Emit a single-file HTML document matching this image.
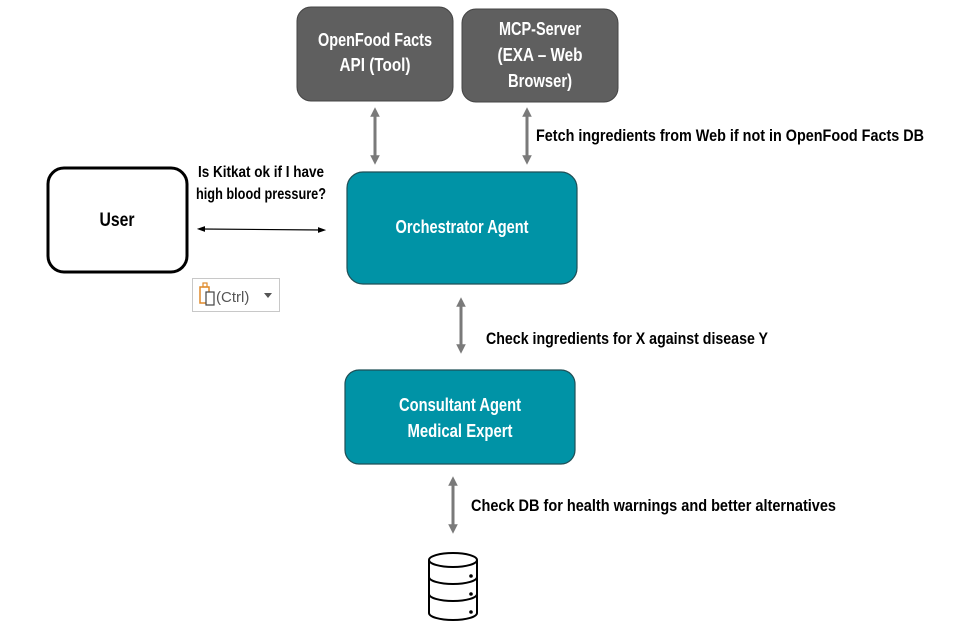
<!DOCTYPE html>
<html><head><meta charset="utf-8"><style>
html,body{margin:0;padding:0;background:#fff;}
svg{display:block;}
text{font-family:"Liberation Sans Narrow","Liberation Sans",sans-serif;font-weight:bold;}
</style></head><body>
<svg width="973" height="640" viewBox="0 0 973 640" xmlns="http://www.w3.org/2000/svg">
<defs>
<marker id="ag" viewBox="0 0 10 10" refX="5" refY="5" markerWidth="3.2" markerHeight="3.2" orient="auto-start-reverse"><path d="M0,0 L10,5 L0,10 z" fill="#7a7a7a"/></marker>
<marker id="ab" viewBox="0 0 10 10" refX="5" refY="5" markerWidth="7" markerHeight="7" orient="auto-start-reverse"><path d="M0,1.5 L10,5 L0,8.5 z" fill="#000"/></marker>
</defs>
<!-- top boxes -->
<rect x="297" y="7" width="156" height="94" rx="14" fill="#5f5f5f" stroke="#444" stroke-width="1"/>
<text x="375" y="46" text-anchor="middle" fill="#fff" font-size="18" textLength="114" lengthAdjust="spacingAndGlyphs">OpenFood Facts</text>
<text x="375" y="71" text-anchor="middle" fill="#fff" font-size="18" textLength="71" lengthAdjust="spacingAndGlyphs">API (Tool)</text>
<rect x="462" y="9" width="156" height="93" rx="14" fill="#5f5f5f" stroke="#444" stroke-width="1"/>
<text x="540" y="35" text-anchor="middle" fill="#fff" font-size="18" textLength="82" lengthAdjust="spacingAndGlyphs">MCP-Server</text>
<text x="540" y="61" text-anchor="middle" fill="#fff" font-size="18" textLength="85" lengthAdjust="spacingAndGlyphs">(EXA – Web</text>
<text x="540" y="87" text-anchor="middle" fill="#fff" font-size="18" textLength="64" lengthAdjust="spacingAndGlyphs">Browser)</text>
<!-- arrows top -->
<line x1="375" y1="112" x2="375" y2="160" stroke="#7a7a7a" stroke-width="3" marker-start="url(#ag)" marker-end="url(#ag)"/>
<line x1="527" y1="112" x2="527" y2="160" stroke="#7a7a7a" stroke-width="3" marker-start="url(#ag)" marker-end="url(#ag)"/>
<text x="536" y="141" fill="#000" font-size="17" textLength="388" lengthAdjust="spacingAndGlyphs">Fetch ingredients from Web if not in OpenFood Facts DB</text>
<!-- user -->
<rect x="48" y="168" width="139" height="104" rx="16" fill="#fff" stroke="#000" stroke-width="3"/>
<text x="117" y="226" text-anchor="middle" fill="#000" font-size="19" textLength="35" lengthAdjust="spacingAndGlyphs">User</text>
<text x="261" y="177" text-anchor="middle" fill="#000" font-size="16" textLength="126" lengthAdjust="spacingAndGlyphs">Is Kitkat ok if I have</text>
<text x="261" y="199" text-anchor="middle" fill="#000" font-size="16" textLength="130" lengthAdjust="spacingAndGlyphs">high blood pressure?</text>
<line x1="201" y1="229" x2="322" y2="230" stroke="#000" stroke-width="1.2" marker-start="url(#ab)" marker-end="url(#ab)"/>
<!-- ctrl widget -->
<rect x="192.5" y="278.5" width="87" height="33" fill="#fff" stroke="#c8c8c8"/>
<rect x="200" y="287" width="9" height="16" fill="none" stroke="#e08a2a" stroke-width="1.5"/>
<rect x="203" y="283" width="4" height="4" fill="none" stroke="#e08a2a" stroke-width="1.2"/>
<rect x="206" y="292" width="8" height="13" fill="#fff" stroke="#444" stroke-width="1.2"/>
<text x="216" y="302" fill="#555" font-size="15" style="font-family:'Liberation Sans',sans-serif;font-weight:normal">(Ctrl)</text>
<path d="M264,293 L272,293 L268,298 z" fill="#555"/>
<!-- orchestrator -->
<rect x="347" y="172" width="230" height="112" rx="16" fill="#0093a6" stroke="#1f4f56" stroke-width="1.2"/>
<text x="462" y="233" text-anchor="middle" fill="#fff" font-size="18" textLength="133" lengthAdjust="spacingAndGlyphs">Orchestrator Agent</text>
<!-- middle arrow -->
<line x1="461" y1="302" x2="461" y2="349" stroke="#7a7a7a" stroke-width="3" marker-start="url(#ag)" marker-end="url(#ag)"/>
<text x="486" y="344" fill="#000" font-size="17" textLength="282" lengthAdjust="spacingAndGlyphs">Check ingredients for X against disease Y</text>
<!-- consultant -->
<rect x="345" y="370" width="230" height="94" rx="14" fill="#0093a6" stroke="#1f4f56" stroke-width="1.2"/>
<text x="460" y="411" text-anchor="middle" fill="#fff" font-size="18" textLength="122" lengthAdjust="spacingAndGlyphs">Consultant Agent</text>
<text x="460" y="437" text-anchor="middle" fill="#fff" font-size="18" textLength="105" lengthAdjust="spacingAndGlyphs">Medical Expert</text>
<!-- bottom arrow -->
<line x1="453" y1="481" x2="453" y2="529" stroke="#7a7a7a" stroke-width="3" marker-start="url(#ag)" marker-end="url(#ag)"/>
<text x="471" y="511" fill="#000" font-size="17" textLength="365" lengthAdjust="spacingAndGlyphs">Check DB for health warnings and better alternatives</text>
<!-- DB icon -->
<g fill="none" stroke="#000" stroke-width="2">
<ellipse cx="453" cy="560" rx="24" ry="7"/>
<path d="M429,560 V613 A24,7 0 0 0 477,613 V560"/>
<path d="M429,577 A24,7 0 0 0 477,577"/>
<path d="M429,594 A24,7 0 0 0 477,594"/>
</g>
<circle cx="471" cy="576" r="1.8" fill="#000"/>
<circle cx="471" cy="594" r="1.8" fill="#000"/>
<circle cx="471" cy="612" r="1.8" fill="#000"/>
</svg>
</body></html>
